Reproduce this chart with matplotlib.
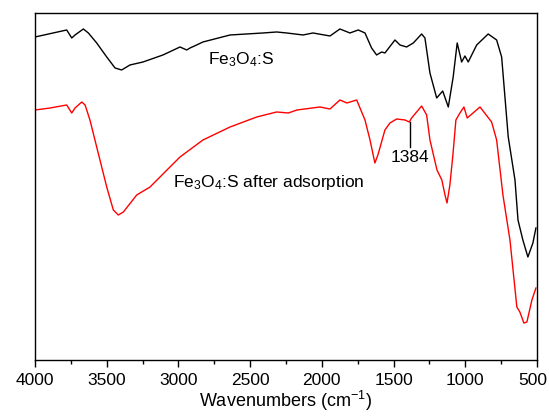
import matplotlib

matplotlib.use("Agg")
import matplotlib.pyplot as plt
from matplotlib.ticker import MultipleLocator
from matplotlib.transforms import ScaledTranslation

plt.rcParams["font.family"] = ["Liberation Sans", "DejaVu Sans"]
plt.rcParams["mathtext.fontset"] = "custom"
plt.rcParams["mathtext.rm"] = "Liberation Sans"
plt.rcParams["mathtext.it"] = "Liberation Sans"

# Fe3O4:S spectrum (wavenumber, arbitrary transmittance)
black_wn = [4000, 3779, 3744, 3721, 3663, 3628, 3570, 3500, 3442, 3396, 3338,
            3247, 3108, 2989, 2942, 2919, 2873, 2829, 2640, 2410, 2315, 2245,
            2131, 2062, 1943, 1874, 1804, 1746, 1699, 1653, 1618, 1583, 1560,
            1490, 1455, 1409, 1362, 1304, 1281, 1246, 1199, 1157, 1118, 1084,
            1056, 1025, 1002, 979, 920, 840, 781, 746, 700, 653, 632, 598,
            563, 528, 507]
black_t = [323, 330, 322, 325, 331, 327, 317, 303, 292, 290, 295,
           298, 305, 313, 310, 312, 315, 318, 325, 327, 328, 327,
           325, 327, 324, 331, 327, 330, 327, 312, 305, 308, 307,
           320, 315, 313, 317, 326, 322, 287, 262, 269, 253, 283,
           317, 298, 304, 298, 315, 326, 320, 303, 223, 180, 140, 120,
           103, 117, 132]

# Fe3O4:S after adsorption
red_wn = [4000, 3895, 3779, 3744, 3721, 3674, 3651, 3617, 3570, 3500, 3454,
          3419, 3384, 3291, 3198, 3059, 2989, 2829, 2640, 2454, 2315, 2234,
          2173, 2013, 1943, 1874, 1825, 1757, 1699, 1664, 1630, 1609, 1560,
          1525, 1478, 1420, 1390, 1374, 1304, 1269, 1246, 1197, 1163, 1141,
          1127, 1107, 1086, 1065, 1037, 1009, 986, 897, 816, 781, 737, 688,
          640, 619, 591, 570, 535, 507]
red_t = [250, 252, 255, 247, 252, 258, 255, 240, 213, 173, 150,
         145, 148, 165, 173, 193, 203, 220, 233, 243, 248, 247,
         250, 253, 251, 260, 257, 260, 240, 220, 197, 205, 230,
         237, 241, 240, 238, 242, 254, 245, 220, 190, 180, 165,
         157, 175, 205, 240, 247, 253, 242, 253, 238, 220, 165, 120,
         53, 48, 37, 38, 60, 72]

x_ticks = [4000, 3500, 3000, 2500, 2000, 1500, 1000, 500]

peak_wn = 1384
peak_line = (238, 213)


def main() -> None:
    fig = plt.figure(figsize=(5.49, 4.16), dpi=100)
    ax = fig.add_axes([0.0638, 0.1346, 0.9142, 0.8342])

    ax.plot(black_wn, black_t, color="black", linewidth=1.0)
    ax.plot(red_wn, red_t, color="#ff0000", linewidth=1.0)

    ax.plot([peak_wn, peak_wn], peak_line, color="black", linewidth=1.0)
    ax.text(peak_wn, 202, "1384", ha="center", va="center", fontsize=12.5)

    ax.text(2794, 300, r"Fe$_\mathregular{3}$O$_\mathregular{4}$:S",
            ha="left", va="center", fontsize=12.5)
    ax.text(3038, 177, r"Fe$_\mathregular{3}$O$_\mathregular{4}$:S after adsorption",
            ha="left", va="center", fontsize=12.5)

    ax.set_xlim(4000, 500)
    ax.set_ylim(0, 347)
    ax.set_yticks([])
    ax.set_xticks(x_ticks)
    ax.xaxis.set_minor_locator(MultipleLocator(250))
    ax.tick_params(axis="x", which="major", direction="out", length=5,
                   width=1, labelsize=12.5, pad=4)
    ax.tick_params(axis="x", which="minor", direction="out", length=3, width=1)
    ax.set_xlabel(r"Wavenumbers (cm$^{-1}$)", fontsize=13, labelpad=1)
    for spine in ax.spines.values():
        spine.set_linewidth(1.0)

    # nudge the "500" label so it stays inside the figure edge
    fig.canvas.draw()
    for tick in ax.xaxis.get_major_ticks():
        if tick.get_loc() == 500:
            label = tick.label1
            label.set_transform(label.get_transform()
                                + ScaledTranslation(-4 / 100, 0, fig.dpi_scale_trans))

    fig.savefig("out.png", dpi=100)
    plt.close(fig)


if __name__ == "__main__":
    main()
